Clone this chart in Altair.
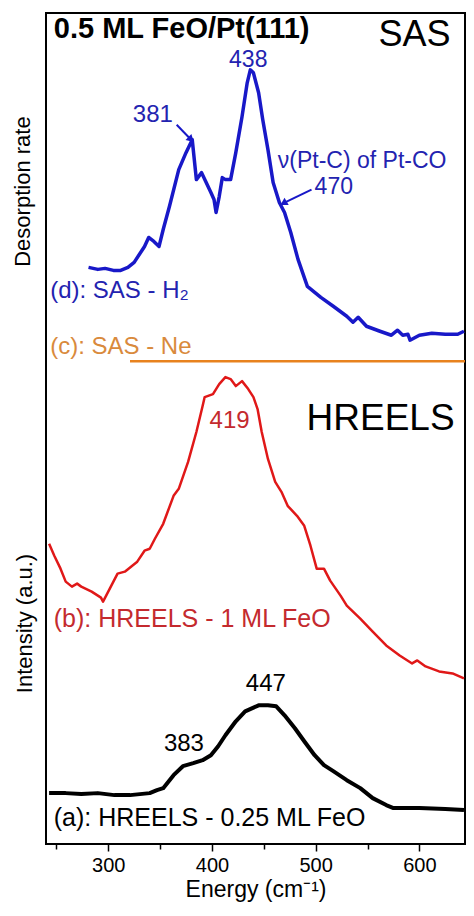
import altair as alt
import pandas as pd

# ---- data (energy in cm^-1, intensity in arbitrary units) ----
blue_x = [281, 290, 297, 305, 312, 319, 325, 335, 339, 344, 349, 353, 359, 368, 375, 381, 385, 390, 394, 399,
          402, 404, 407, 410, 413, 418, 423, 429, 434, 437, 440, 445, 449, 454, 459, 465, 470, 476, 483, 492,
          505, 517, 530, 536, 541, 549, 562, 573, 579, 584, 589, 591, 600, 612, 625, 637, 643]
blue_y = [578, 576, 577, 575, 575, 578, 583, 599, 608, 604, 599, 616, 639, 676, 693, 706, 666, 673, 664, 653,
          646, 633, 649, 668, 666, 666, 693, 729, 763, 776, 773, 753, 726, 696, 663, 643, 633, 613, 586, 559,
          548, 539, 529, 523, 528, 519, 514, 510, 515, 510, 511, 505, 510, 512, 511, 511, 514]

orange_x = [321, 400, 500, 600, 644]
orange_y = [484, 484, 484, 484, 484]

red_x = [243, 248, 254, 259, 265, 270, 274, 284, 293, 295, 303, 309, 316, 322, 328, 335, 340, 345, 353, 363,
         368, 377, 385, 391, 393, 401, 407, 413, 418, 423, 429, 435, 440, 444, 448, 454, 461, 467, 473, 482,
         489, 495, 501, 508, 514, 524, 530, 543, 555, 568, 581, 593, 598, 606, 619, 632, 643]
red_y = [301, 289, 276, 263, 258, 261, 258, 253, 247, 243, 259, 271, 273, 278, 283, 294, 296, 306, 321, 349,
         356, 383, 413, 439, 448, 451, 461, 468, 466, 459, 464, 456, 448, 436, 413, 386, 363, 353, 339, 329,
         319, 299, 276, 276, 264, 249, 239, 226, 213, 199, 189, 181, 184, 178, 173, 171, 166]

black_x = [243, 259, 274, 290, 306, 321, 340, 347, 353, 363, 372, 382, 391, 399, 406, 413, 423, 432, 445, 454,
           462, 470, 480, 489, 499, 508, 517, 530, 543, 555, 568, 575, 600, 625, 643]
black_y = [51, 51, 50, 51, 49, 49, 51, 54, 56, 69, 78, 81, 84, 89, 98, 109, 123, 133, 139, 139,
           138, 129, 116, 103, 89, 79, 73, 64, 56, 46, 39, 36, 36, 35, 34]

tick_values = [250, 300, 350, 400, 450, 500, 550, 600]

BLUE_LINE = "#1818c8"
BLUE_TEXT = "#2323b0"
ORANGE_LINE = "#e8821e"
ORANGE_TEXT = "#d98a3c"
RED_LINE = "#e01818"
RED_TEXT = "#c42a2e"
FONT = "Liberation Sans"

XDOM = [240, 644]
YDOM = [0, 833]

xenc = dict(scale=alt.Scale(domain=XDOM, nice=False, zero=False))
yenc = dict(scale=alt.Scale(domain=YDOM, nice=False, zero=False))


def series(xs, ys, color, width):
    df = pd.DataFrame({"energy": xs, "intensity": ys})
    return alt.Chart(df).mark_line(color=color, strokeWidth=width, strokeJoin="round").encode(
        x=alt.X("energy:Q", **xenc,
                axis=alt.Axis(values=tick_values, title="Energy (cm⁻¹)",
                              labelExpr="datum.value % 100 == 0 ? datum.label : ''",
                              tickSize={"condition": {"test": "datum.value % 100 == 0", "value": 7}, "value": 5},
                              tickWidth=1.5, tickColor="black", domain=False, grid=False,
                              labelFontSize=20, labelFont=FONT, labelColor="black", labelPadding=4,
                              titleFontSize=23, titleFont=FONT, titleFontWeight="normal",
                              titleColor="black", titlePadding=3)),
        y=alt.Y("intensity:Q", **yenc, axis=None),
        order="energy:Q",
    )


def label(text, x, y, color="black", size=24, align="left", weight="normal", angle=0, xpix=None):
    df = pd.DataFrame({"energy": [x], "intensity": [y], "t": [text]})
    kw = dict(align=align, baseline="middle", fontSize=size, font=FONT, color=color,
              fontWeight=weight)
    if angle:
        kw["angle"] = angle
    enc = dict(y=alt.Y("intensity:Q", **yenc), text="t:N")
    if xpix is not None:
        enc["x"] = alt.value(xpix)
    else:
        enc["x"] = alt.X("energy:Q", **xenc)
    return alt.Chart(df).mark_text(**kw).encode(**enc)


def arrow(x1, y1, x2, y2, color, ang):
    df = pd.DataFrame({"x1": [x1], "y1": [y1], "x2": [x2], "y2": [y2]})
    r = alt.Chart(df).mark_rule(color=color, strokeWidth=2).encode(
        x=alt.X("x1:Q", **xenc), y=alt.Y("y1:Q", **yenc), x2="x2:Q", y2="y2:Q")
    h = alt.Chart(df).mark_point(shape="triangle", filled=True, color=color, opacity=1,
                                 size=70, angle=ang).encode(
        x=alt.X("x2:Q", **xenc), y=alt.Y("y2:Q", **yenc))
    return r + h


layers = [
    series(orange_x, orange_y, ORANGE_LINE, 2.5),
    series(blue_x, blue_y, BLUE_LINE, 3.5),
    series(red_x, red_y, RED_LINE, 2.5),
    series(black_x, black_y, "black", 4),
    label("0.5 ML FeO/Pt(111)", 247.5, 817, size=29, weight="bold"),
    label("SAS", 630, 811, size=36, align="right"),
    label("438", 435, 786, color=BLUE_TEXT, size=23, align="center"),
    label("381", 343, 731, color=BLUE_TEXT, size=24, align="center"),
    arrow(366, 721, 379, 707, BLUE_LINE, 135),
    label("ν(Pt-C) of Pt-CO", 463.5, 685, color=BLUE_TEXT, size=23),
    label("470", 499, 659, color=BLUE_TEXT, size=23),
    arrow(496, 656, 470, 643, BLUE_LINE, 240),
    label("(d): SAS - H₂", 244, 554, color=BLUE_TEXT, size=24),
    label("(c): SAS - Ne", 244, 498, color=ORANGE_TEXT, size=24),
    label("HREELS", 634, 426, size=37, align="right"),
    label("419", 417, 424, color=RED_TEXT, size=24, align="center"),
    label("(b): HREELS - 1 ML FeO", 247.5, 226, color=RED_TEXT, size=25),
    label("447", 452, 160, size=24, align="center"),
    label("383", 373, 100, size=24, align="center"),
    label("(a): HREELS - 0.25 ML FeO", 247.5, 26, size=25),
    label("Desorption rate", 0, 654, size=22, align="center", angle=270, xpix=-23),
    label("Intensity (a.u.)", 0, 221, size=22, align="center", angle=270, xpix=-21),
]

chart = alt.layer(*layers).properties(
    width=419, height=831,
    autosize=alt.AutoSizeParams(type="none"),
    padding={"left": 38, "top": 5, "right": 1, "bottom": 60},
    background="white",
).configure_view(stroke="black", strokeWidth=2)

chart.save("out.html", embed_options={"renderer": "svg", "actions": False})
